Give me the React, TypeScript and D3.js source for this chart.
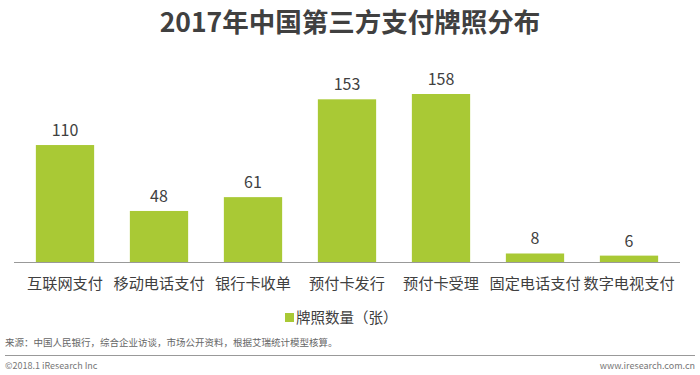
import React from "react";
import * as d3 from "d3";

const categories = ["互联网支付", "移动电话支付", "银行卡收单", "预付卡发行", "预付卡受理", "固定电话支付", "数字电视支付"];
const values = [110, 48, 61, 153, 158, 8, 6];
const seriesName = "牌照数量（张）";
const title = "2017年中国第三方支付牌照分布";
const source = "来源：中国人民银行，综合企业访谈，市场公开资料，根据艾瑞统计模型核算。";
const copyright = "©2018.1 iResearch Inc";
const site = "www.iresearch.com.cn";

const W = 700, H = 375;
const baseY = 262;
const font = "'Noto Sans CJK SC', 'Noto Sans', sans-serif";
const green = "#a9c935";
const textColor = "#404040";

export default function App() {
  const x = d3.scaleBand<string>().domain(categories).range([18, 676]).paddingInner(0.38).paddingOuter(0.19);
  const y = d3.scaleLinear().domain([0, 158]).range([baseY, 94]);
  return (
    <svg width={W} height={H} style={{ position: "absolute", left: 0, top: 0, background: "#fff" }} fontFamily={font}>
      <rect width={W} height={H} fill="#fff" />
      <text x={350} y={32} textAnchor="middle" fontSize={26.5} fontWeight="bold" fill={textColor}>{title}</text>
      {categories.map((c, i) => (
        <g key={c}>
          <rect x={x(c)} y={y(values[i])} width={x.bandwidth()} height={baseY - y(values[i])} fill={green} />
          <text x={(x(c) as number) + x.bandwidth() / 2} y={y(values[i]) - 9} textAnchor="middle" fontSize={16} fill={textColor}>{values[i]}</text>
          <text x={(x(c) as number) + x.bandwidth() / 2} y={289} textAnchor="middle" fontSize={15.2} fill={textColor}>{c}</text>
        </g>
      ))}
      <line x1={14} x2={680} y1={baseY + 0.5} y2={baseY + 0.5} stroke="#999" strokeWidth={1} />
      <rect x={285} y={313} width={9} height={9} fill={green} />
      <text x={296} y={323} fontSize={14.5} fill={textColor}>{seriesName}</text>
      <text x={5} y={346} fontSize={9.5} fill="#666">{source}</text>
      <line x1={5} x2={695} y1={355.5} y2={355.5} stroke="#999" strokeWidth={1} />
      <text x={5} y={369} fontSize={9} fill="#777">{copyright}</text>
      <text x={695} y={369} fontSize={9} fill="#777" textAnchor="end">{site}</text>
    </svg>
  );
}
